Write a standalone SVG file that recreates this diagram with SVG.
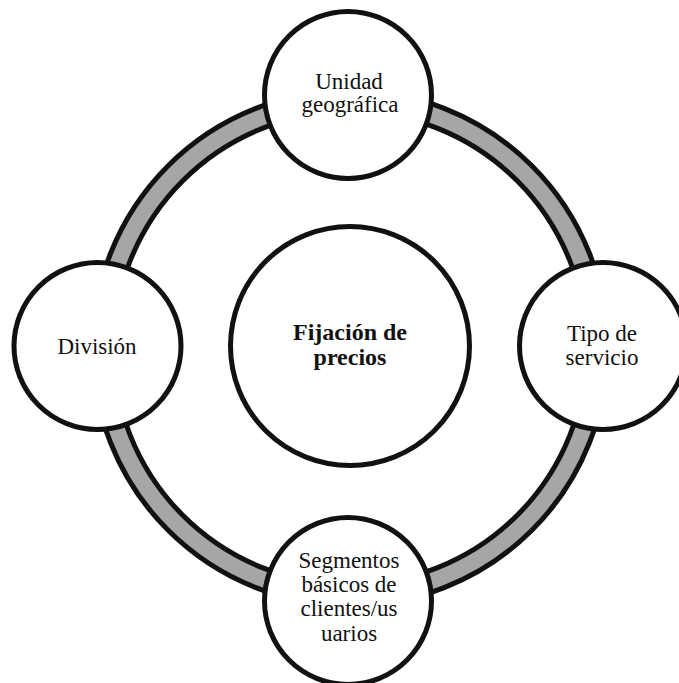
<svg xmlns="http://www.w3.org/2000/svg" width="679" height="683" viewBox="0 0 679 683">
  <style>
    .node { fill: #ffffff; stroke: #111111; stroke-width: 5; }
    .ring-edge { fill: none; stroke: #111111; stroke-width: 26; }
    .ring-band { fill: none; stroke: #a6a6a6; stroke-width: 16; }
    .label { font-family: "Liberation Serif", "Times New Roman", serif; font-size: 23px; fill: #111111; text-anchor: middle; }
    .title { font-weight: bold; font-size: 24px; }
  </style>
  <rect width="679" height="683" fill="#ffffff"/>

  <!-- gray ring linking the satellite circles -->
  <g id="connectors">
    <circle class="ring-edge" cx="350" cy="348" r="247"/>
    <circle class="ring-band" cx="350" cy="348" r="247"/>
  </g>

  <g id="node-center">
    <circle class="node" cx="350" cy="346" r="119.5"/>
    <text class="label title" x="350" y="340">Fijación de</text>
    <text class="label title" x="350" y="365">precios</text>
  </g>

  <g id="node-top">
    <circle class="node" cx="348" cy="95" r="83.5"/>
    <text class="label" x="349" y="89">Unidad</text>
    <text class="label" x="350" y="112">geográfica</text>
  </g>

  <g id="node-left">
    <circle class="node" cx="97.5" cy="346" r="83.5"/>
    <text class="label" x="97" y="354">División</text>
  </g>

  <g id="node-right">
    <circle class="node" cx="603" cy="346" r="83.5"/>
    <text class="label" x="602" y="341">Tipo de</text>
    <text class="label" x="602" y="365">servicio</text>
  </g>

  <g id="node-bottom">
    <circle class="node" cx="348" cy="601" r="83.5"/>
    <text class="label" x="349" y="568">Segmentos</text>
    <text class="label" x="349" y="592">básicos de</text>
    <text class="label" x="349" y="616">clientes/us</text>
    <text class="label" x="349" y="641">uarios</text>
  </g>
</svg>
